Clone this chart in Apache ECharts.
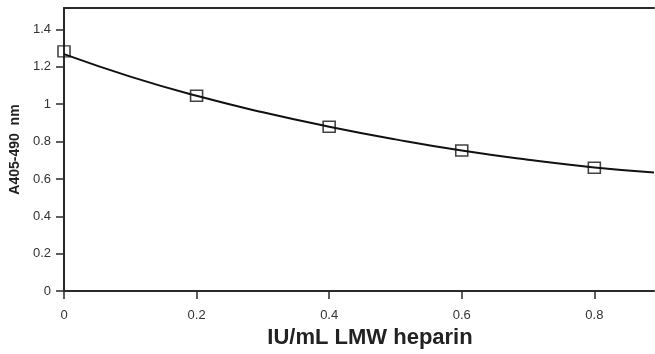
<!DOCTYPE html>
<html>
<head>
<meta charset="utf-8">
<script src="https://cdn.jsdelivr.net/npm/echarts@6/dist/echarts.min.js"></script>
<style>html,body{margin:0;padding:0;background:#fff}#c{width:655px;height:354px}</style>
</head>
<body>
<div id="c"></div>
<script>
// measured points
const doseX = [0, 0.2, 0.4, 0.6, 0.8];
const absorbance = [1.283, 1.045, 0.88, 0.752, 0.66];
// fitted curve
const fitX = [0, 0.1, 0.2, 0.3, 0.4, 0.5, 0.6, 0.7, 0.8, 0.89];
const fitY = [1.268, 1.148, 1.045, 0.957, 0.88, 0.812, 0.752, 0.703, 0.662, 0.635];
const xTicks = [0, 0.2, 0.4, 0.6, 0.8];
const yTicks = [0, 0.2, 0.4, 0.6, 0.8, 1, 1.2, 1.4];

const chart = echarts.init(document.getElementById('c'), null, {renderer: 'canvas'});
const axisColor = '#2a2a2a';
chart.setOption({
  animation: false,
  grid: {left: 61, right: 1, top: 8, bottom: 60, containLabel: false},
  xAxis: [{
    type: 'value', min: 0, max: 0.89, position: 'bottom',
    name: 'IU/mL LMW heparin', nameLocation: 'middle', nameGap: 30,
    nameTextStyle: {fontFamily: 'Liberation Sans', fontWeight: 'bold', fontSize: 22, color: '#222', padding: [0, 0, 0, 22]},
    axisLine: {show: true, lineStyle: {color: axisColor, width: 2}},
    axisTick: {show: true, length: 8, inside: false, customValues: xTicks, lineStyle: {color: axisColor, width: 1.5}},
    axisLabel: {customValues: xTicks, margin: 18, fontFamily: 'Liberation Sans', fontSize: 13, color: '#333',
      formatter: v => String(v)},
    splitLine: {show: false}
  }, {
    type: 'value', min: 0, max: 0.89, position: 'top',
    axisLine: {show: true, lineStyle: {color: axisColor, width: 2}},
    axisTick: {show: false}, axisLabel: {show: false}, splitLine: {show: false}
  }],
  yAxis: {
    type: 'value', min: 0, max: 1.515,
    name: 'A405-490  nm', nameLocation: 'middle', nameGap: 42, nameRotate: 90,
    nameTextStyle: {fontFamily: 'Liberation Sans', fontWeight: 'bold', fontSize: 14, color: '#222'},
    axisLine: {show: true, lineStyle: {color: axisColor, width: 2}},
    axisTick: {show: true, length: 8, customValues: yTicks, lineStyle: {color: axisColor, width: 1.5}},
    axisLabel: {customValues: yTicks, margin: 13, fontFamily: 'Liberation Sans', fontSize: 13, color: '#333',
      formatter: v => String(v)},
    splitLine: {show: false}
  },
  series: [{
    type: 'line', xAxisIndex: 0,
    data: fitX.map((x, i) => [x, fitY[i]]),
    smooth: true, showSymbol: false, symbol: 'none',
    lineStyle: {color: '#111', width: 2}, z: 2
  }, {
    type: 'scatter', xAxisIndex: 0,
    data: doseX.map((x, i) => [x, absorbance[i]]),
    symbol: 'rect', symbolSize: [12, 11],
    itemStyle: {color: 'rgba(255,255,255,0)', borderColor: '#111', borderWidth: 1.5}, z: 3
  }]
});
</script>
</body>
</html>
